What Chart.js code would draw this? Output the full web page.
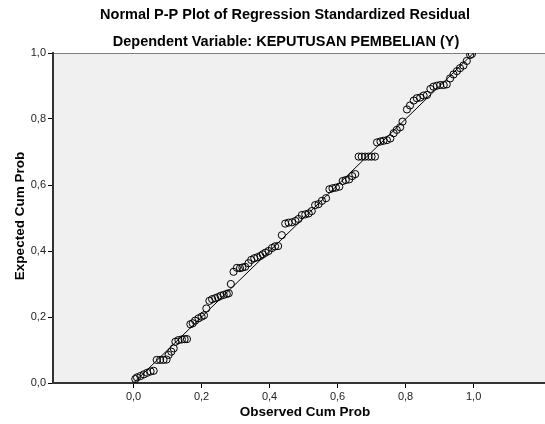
<!DOCTYPE html>
<html>
<head>
<meta charset="utf-8">
<script src="https://cdn.jsdelivr.net/npm/chart.js@4.4.1/dist/chart.umd.min.js"></script>
<style>
  html, body { margin: 0; padding: 0; background: #fff; }
</style>
</head>
<body>
<canvas id="graph" width="545" height="424"></canvas>
<script>
const observe = [
  0.005, 0.010, 0.020, 0.030, 0.040, 0.050, 0.059, 0.068, 0.078, 0.088,
  0.097, 0.103, 0.111, 0.118, 0.123, 0.132, 0.142, 0.150, 0.157, 0.167,
  0.174, 0.181, 0.191, 0.200, 0.207, 0.214, 0.223, 0.231, 0.240, 0.248,
  0.256, 0.265, 0.274, 0.280, 0.286, 0.294, 0.304, 0.313, 0.320, 0.328,
  0.338, 0.346, 0.355, 0.364, 0.373, 0.380, 0.388, 0.397, 0.407, 0.416,
  0.425, 0.436, 0.446, 0.456, 0.466, 0.476, 0.485, 0.495, 0.505, 0.515,
  0.524, 0.534, 0.544, 0.554, 0.566, 0.576, 0.585, 0.595, 0.605, 0.615,
  0.624, 0.634, 0.643, 0.652, 0.662, 0.671, 0.681, 0.691, 0.700, 0.710,
  0.716, 0.726, 0.735, 0.745, 0.755, 0.765, 0.774, 0.784, 0.791, 0.804,
  0.813, 0.824, 0.833, 0.843, 0.853, 0.863, 0.873, 0.882, 0.892, 0.902,
  0.912, 0.921, 0.931, 0.941, 0.951, 0.960, 0.970, 0.980, 0.990, 0.995
];
// Probabilités cumulées attendues (axe Y)
const attendu = [
  0.012, 0.017, 0.021, 0.026, 0.031, 0.035, 0.037, 0.070, 0.070, 0.070,
  0.071, 0.085, 0.095, 0.105, 0.125, 0.130, 0.132, 0.133, 0.133, 0.178,
  0.181, 0.189, 0.196, 0.201, 0.205, 0.226, 0.249, 0.254, 0.257, 0.260,
  0.264, 0.267, 0.270, 0.272, 0.300, 0.337, 0.349, 0.348, 0.350, 0.352,
  0.363, 0.373, 0.378, 0.381, 0.385, 0.390, 0.395, 0.400, 0.409, 0.414,
  0.415, 0.448, 0.483, 0.486, 0.487, 0.491, 0.497, 0.509, 0.511, 0.514,
  0.521, 0.539, 0.542, 0.552, 0.560, 0.587, 0.590, 0.592, 0.595, 0.612,
  0.615, 0.617, 0.627, 0.633, 0.686, 0.686, 0.686, 0.686, 0.686, 0.686,
  0.729, 0.732, 0.734, 0.736, 0.741, 0.757, 0.767, 0.775, 0.792, 0.829,
  0.841, 0.856, 0.863, 0.865, 0.871, 0.873, 0.891, 0.898, 0.901, 0.903,
  0.903, 0.905, 0.923, 0.935, 0.945, 0.954, 0.962, 0.976, 0.994, 0.997
];
// Graduations des axes
const ticksX = [0, 0.2, 0.4, 0.6, 0.8, 1.0];
const ticksY = [0, 0.2, 0.4, 0.6, 0.8, 1.0];
// Droite de référence (loi normale)
const diagonale = [{x: 0, y: 0}, {x: 1, y: 1}];

const titre1 = 'Normal P-P Plot of Regression Standardized Residual';
const titre2 = 'Dependent Variable: KEPUTUSAN PEMBELIAN (Y)';
const titreX = 'Observed Cum Prob';
const titreY = 'Expected Cum Prob';

const police = '"Liberation Sans", Arial, sans-serif';

// Fond gris de la zone de tracé et textes
const decor = {
    id: 'decor',
    beforeDraw(chart) {
        const {ctx, chartArea: a} = chart;
        ctx.save();
        ctx.fillStyle = '#f0f0f0';
        ctx.fillRect(a.left, a.top, a.right - a.left, a.bottom - a.top);
        ctx.strokeStyle = '#808080';
        ctx.lineWidth = 1;
        ctx.beginPath();
        ctx.moveTo(a.left, a.top + 0.5);
        ctx.lineTo(a.right, a.top + 0.5);
        ctx.stroke();
        ctx.restore();
    },
    afterDraw(chart) {
        const {ctx, chartArea: a} = chart;
        ctx.save();
        ctx.fillStyle = '#000';
        ctx.textAlign = 'center';
        ctx.textBaseline = 'middle';
        ctx.font = 'bold 14.5px ' + police;
        ctx.fillText(titre1, 285, 15);
        ctx.fillText(titre2, 286, 42);
        ctx.font = 'bold 13.5px ' + police;
        ctx.fillText(titreX, 305, 412);
        ctx.translate(20, (a.top + a.bottom) / 2 - 2);
        ctx.rotate(-Math.PI / 2);
        ctx.fillText(titreY, 0, 0);
        ctx.restore();
    }
};

function formatVirgule(v) {
    return v.toFixed(1).replace('.', ',');
}

const points = observe.map((v, i) => ({x: v, y: attendu[i]}));

new Chart(document.getElementById('graph').getContext('2d'), {
    type: 'scatter',
    data: {
        datasets: [
            {
                data: points,
                pointStyle: 'circle',
                pointRadius: 3.6,
                pointBorderWidth: 1,
                borderColor: '#000',
                backgroundColor: 'rgba(0,0,0,0)'
            },
            {
                data: diagonale,
                showLine: true,
                pointRadius: 0,
                borderColor: '#000',
                borderWidth: 1
            }
        ]
    },
    options: {
        responsive: false,
        animation: false,
        layout: {autoPadding: false, padding: {top: 53, left: 0, right: 0, bottom: 0}},
        plugins: {legend: {display: false}, tooltip: {enabled: false}, title: {display: false}},
        scales: {
            x: {
                type: 'linear',
                min: -0.237,
                max: 1.21,
                afterBuildTicks: s => { s.ticks = ticksX.map(v => ({value: v})); },
                afterFit: s => { s.height = 41; },
                grid: {drawOnChartArea: false, drawTicks: true, tickLength: 5, color: '#000', tickWidth: 1},
                border: {display: true, color: '#333', width: 2},
                ticks: {
                    callback: v => formatVirgule(v),
                    font: {family: police, size: 11},
                    color: '#222',
                    padding: 2,
                    maxRotation: 0,
                    autoSkip: false
                }
            },
            y: {
                type: 'linear',
                min: 0,
                max: 1,
                afterBuildTicks: s => { s.ticks = ticksY.map(v => ({value: v})); },
                afterFit: s => { s.width = 53; },
                grid: {drawOnChartArea: false, drawTicks: true, tickLength: 5, color: '#000', tickWidth: 1},
                border: {display: true, color: '#333', width: 2},
                ticks: {
                    callback: v => formatVirgule(v),
                    font: {family: police, size: 11},
                    color: '#222',
                    padding: 2,
                    autoSkip: false
                }
            }
        }
    },
    plugins: [decor]
});
</script>
</body>
</html>
